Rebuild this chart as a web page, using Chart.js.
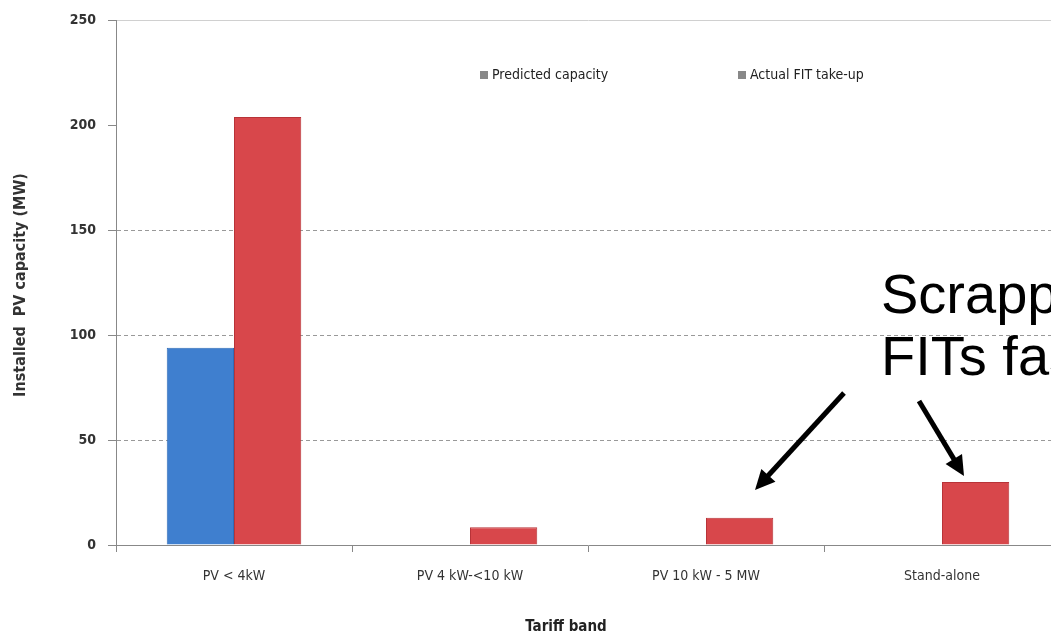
<!DOCTYPE html>
<html>
<head>
<meta charset="utf-8">
<script src="https://cdn.jsdelivr.net/npm/chart.js@4"></script>
<style>
  html, body { margin: 0; padding: 0; background: #fff; overflow: hidden; }
  #wrap { position: relative; width: 1060px; height: 640px; }
</style>
</head>
<body>
<div id="wrap"><canvas id="graphique"></canvas></div>
<script>
const categories = ["PV < 4kW", "PV 4 kW-<10 kW", "PV 10 kW - 5 MW", "Stand-alone"];
const predicted = [94, null, null, null];
const actual = [204, 8.5, 13, 30];
const yTicks = [0, 50, 100, 150, 200, 250];
const seriesNames = ["Predicted capacity", "Actual FIT take-up"];
const noteLines = ["Scrapped", "FITs fast"];

const fontTicks = "'DejaVu Sans Condensed', 'DejaVu Sans', sans-serif";

// Titres, légende et flèches dessinés à la main
const decor = {
  id: "decor",
  afterDraw(chart) {
    const ctx = chart.ctx;
    ctx.save();
    // titre axe Y
    ctx.fillStyle = "#333";
    ctx.font = "bold 16px " + fontTicks;
    ctx.translate(21, 285);
    ctx.rotate(-Math.PI / 2);
    ctx.textAlign = "center";
    ctx.textBaseline = "middle";
    ctx.fillText("Installed  PV capacity (MW)", 0, 0);
    ctx.restore();

    ctx.save();
    // titre axe X
    ctx.fillStyle = "#222";
    ctx.font = "bold 15px " + fontTicks;
    ctx.textAlign = "center";
    ctx.textBaseline = "middle";
    ctx.fillText("Tariff band", 566, 627);

    // légende
    ctx.font = "14px " + fontTicks;
    ctx.textAlign = "left";
    const legendX = [480, 738];
    for (let i = 0; i < seriesNames.length; i++) {
      ctx.fillStyle = "#888";
      ctx.fillRect(legendX[i], 71, 8, 8);
      ctx.fillStyle = "#222";
      ctx.fillText(seriesNames[i], legendX[i] + 12, 75);
    }

    // annotation
    ctx.fillStyle = "#000";
    ctx.font = "56px 'Liberation Sans', Arial, sans-serif";
    ctx.textBaseline = "alphabetic";
    ctx.fillText(noteLines[0], 881, 313);
    ctx.fillText(noteLines[1], 881, 375);

    // flèches
    const arrow = (x1, y1, x2, y2) => {
      const a = Math.atan2(y2 - y1, x2 - x1);
      const h = 22;
      ctx.strokeStyle = "#000";
      ctx.lineWidth = 5;
      ctx.beginPath();
      ctx.moveTo(x1, y1);
      ctx.lineTo(x2 - Math.cos(a) * h * 0.8, y2 - Math.sin(a) * h * 0.8);
      ctx.stroke();
      ctx.beginPath();
      ctx.moveTo(x2, y2);
      ctx.lineTo(x2 - h * Math.cos(a - 0.45), y2 - h * Math.sin(a - 0.45));
      ctx.lineTo(x2 - h * Math.cos(a + 0.45), y2 - h * Math.sin(a + 0.45));
      ctx.closePath();
      ctx.fill();
    };
    arrow(844, 393, 755, 490);
    arrow(919, 401, 964, 476);
    ctx.restore();
  }
};

const data = {
  labels: categories,
  datasets: [
    {
      label: seriesNames[0],
      data: predicted,
      backgroundColor: "#3f7fcf",
      borderColor: "#2f6cb8",
      borderWidth: 1,
    },
    {
      label: seriesNames[1],
      data: actual,
      backgroundColor: "#d8474b",
      borderColor: "#b83338",
      borderWidth: 1,
    },
  ],
};

const config = {
  type: "bar",
  data: data,
  plugins: [decor],
  options: {
    responsive: true,
    maintainAspectRatio: false,
    animation: false,
    layout: { padding: { top: 20, left: 0, right: 0, bottom: 0 } },
    datasets: { bar: { categoryPercentage: 0.57, barPercentage: 1.0 } },
    plugins: {
      legend: { display: false },
      tooltip: { enabled: false },
    },
    scales: {
      x: {
        offset: true,
        grid: {
          offset: true,
          drawOnChartArea: false,
          drawTicks: true,
          tickLength: 7,
          color: "#888",
        },
        border: { color: "#888", width: 1 },
        ticks: {
          color: "#333",
          font: { family: fontTicks, size: 14 },
          padding: 16,
        },
        afterFit: (s) => { s.height = 95; },
      },
      y: {
        min: 0,
        max: 250,
        afterBuildTicks: (s) => { s.ticks = yTicks.map(v => ({ value: v })); },
        grid: {
          color: (c) => {
            if (c.tick && c.tick.value === 250) return "#d0d0d0";
            if (c.tick && (c.tick.value === 200 || c.tick.value === 0)) return "rgba(0,0,0,0)";
            return "#999";
          },
          tickLength: 8,
          tickColor: "#888",
          tickBorderDash: [],
          lineWidth: 1,
        },
        border: {
          color: "#888",
          width: 1,
          // pointillés des lignes de grille, sauf la ligne du haut
          dash: (c) => (c.tick && c.tick.value === 250 ? [] : [4, 3]),
        },
        ticks: {
          color: "#333",
          font: { family: fontTicks, size: 14, weight: "bold" },
          padding: 12,
        },
        afterFit: (s) => { s.width = 116; },
      },
    },
  },
};

const graphique = new Chart(document.querySelector("#graphique"), config);
</script>
</body>
</html>
